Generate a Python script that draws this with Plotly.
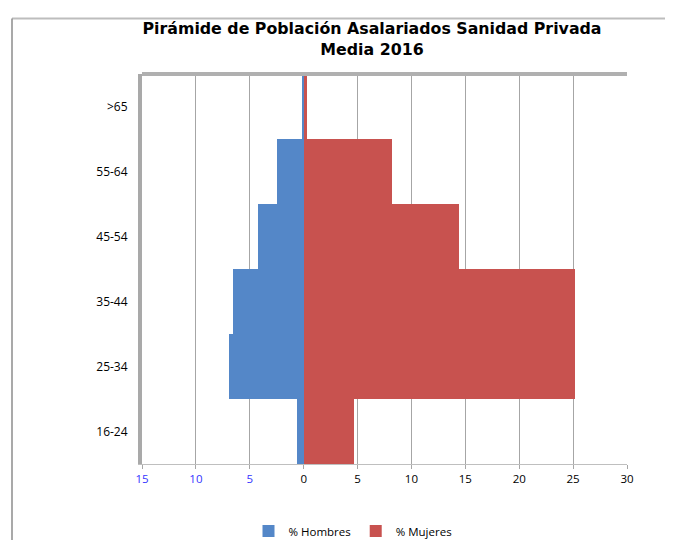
import plotly.graph_objects as go

categories = ["16-24", "25-34", "35-44", "45-54", "55-64", ">65"]
hombres = [0.6, 6.9, 6.6, 4.2, 2.5, 0.2]
mujeres = [4.7, 25.2, 25.2, 14.4, 8.2, 0.3]
tick_vals = [-15, -10, -5, 0, 5, 10, 15, 20, 25, 30]
tick_text = ["<span style='color:#3535FF'>15</span>",
             "<span style='color:#3535FF'>10</span>",
             "<span style='color:#3535FF'>5</span>",
             "0", "5", "10", "15", "20", "25", "30"]

fig = go.Figure()
fig.add_trace(go.Bar(
    y=categories, x=[-v for v in hombres], orientation="h", name="% Hombres",
    marker=dict(color="#5487C8", line=dict(color="#5487C8", width=0)),
))
fig.add_trace(go.Bar(
    y=categories, x=mujeres, orientation="h", name="% Mujeres",
    marker=dict(color="#C8524F", line=dict(color="#C8524F", width=0)),
))

W, H = 673, 540
L, R, T, B = 134, 54, 66, 84

fig.update_layout(
    width=W, height=H,
    margin=dict(l=L, r=R, t=T, b=B),
    paper_bgcolor="white", plot_bgcolor="white",
    barmode="overlay", bargap=0,
    font=dict(family="Open Sans", size=12, color="#000000"),
    title=dict(
        text="<b>Pirámide de Población Asalariados Sanidad Privada<br>Media 2016</b>",
        font=dict(family="DejaVu Sans", size=15.8, color="#000000"),
        x=364 / W, xanchor="center", xref="container",
        y=1 - 26 / H, yanchor="middle", yref="container",
    ),
    xaxis=dict(
        range=[-15, 30], tickvals=tick_vals, ticktext=tick_text,
        showgrid=True, gridcolor="#A6A6A6", gridwidth=1,
        zeroline=False, showline=True, linecolor="#BFBFBF", linewidth=1,
        ticks="outside", ticklen=4, tickcolor="#A6A6A6",
        tickfont=dict(family="Open Sans", size=11.5),
    ),
    yaxis=dict(
        showgrid=False, zeroline=False, showline=True,
        linecolor="#A9A9A9", linewidth=4, ticks="",
        tickfont=dict(family="Open Sans", size=12),
        ticklabelstandoff=8,
    ),
    legend=dict(
        orientation="h", xref="container", yref="container",
        x=345 / W, xanchor="center", y=1 - 523 / H, yanchor="middle",
        font=dict(family="Open Sans", size=11.5),
        itemwidth=30,
    ),
    showlegend=True,
)

# 3D-style back wall edge at top of the plot area
fig.add_shape(type="line", xref="paper", yref="paper", x0=0, x1=1, y0=1, y1=1,
              line=dict(color="#B0B0B0", width=4))
# chart area border (top & left visible)
pw, ph = W - L - R, H - T - B
fig.add_shape(type="line", xref="paper", yref="paper",
              x0=(4 - L) / pw, x1=(W + 5 - L) / pw,
              y0=(H - B - 10.5) / ph, y1=(H - B - 10.5) / ph,
              line=dict(color="#BDBDBD", width=2))
fig.add_shape(type="line", xref="paper", yref="paper",
              x0=(4 - L) / pw, x1=(4 - L) / pw,
              y0=(H - B - 10.5) / ph, y1=(H - B - H - 5) / ph,
              line=dict(color="#8C8C8C", width=1.5))

fig.write_html("out.html")
